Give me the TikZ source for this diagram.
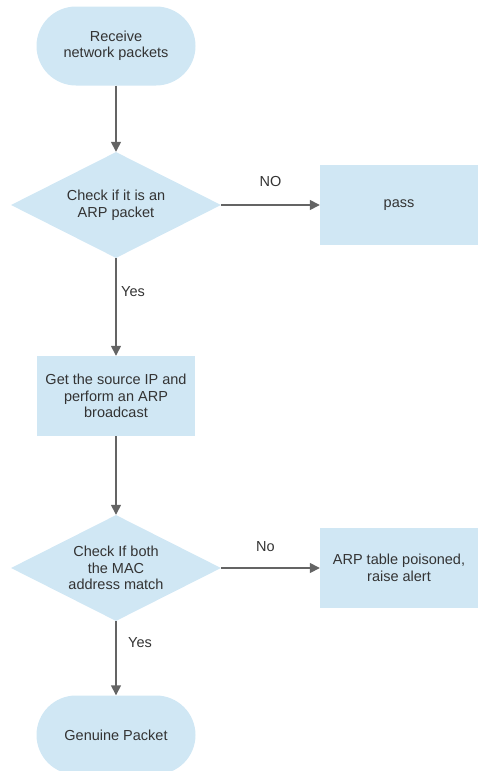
\documentclass[tikz,border=0pt]{standalone}
\usepackage{fontspec}
\setmainfont{Liberation Sans}
\usetikzlibrary{shapes.geometric,arrows.meta}
\definecolor{boxblue}{RGB}{208,231,244}
\definecolor{linegray}{RGB}{100,100,100}
\definecolor{textgray}{RGB}{51,51,51}

\begin{document}
\begin{tikzpicture}[x=1pt,y=-1pt,
        every node/.style={font=\fontsize{14.5}{16.5}\selectfont,text=textgray,align=center},
        terminal/.style={fill=boxblue,rounded corners=39.5pt,minimum width=159pt,minimum height=79pt},
        decision/.style={diamond,fill=boxblue,aspect=1.98,minimum width=210pt,minimum height=106pt,inner sep=0pt},
        process/.style={fill=boxblue,minimum width=158pt,minimum height=80pt},
        flow/.style={draw=linegray,line width=1.5pt,-{Triangle[length=10pt,width=10pt]}}]
                \useasboundingbox (0,0) rectangle (477,771);
                \node[terminal] (receive) at (116,46) {Receive\\network packets};
                \node[decision] (isarp) at (116,205) {Check if it is an\\ARP packet};
                \node[process] (pass) at (399,205) {pass};
                \node[process] (broadcast) at (116,396) {Get the source IP and\\perform an ARP\\broadcast};
                \node[decision] (macmatch) at (116,568) {Check If both\\the MAC\\address match};
                \node[process] (alert) at (399,568) {ARP table poisoned,\\raise alert};
                \node[terminal] (genuine) at (116,735) {Genuine Packet};
                \draw[flow] (receive) -- (isarp);
                \draw[flow] (isarp) -- node[midway,yshift=23pt] {NO} (pass);
                \draw[flow] (isarp) -- node[midway,xshift=17pt,yshift=15pt] {Yes} (broadcast);
                \draw[flow] (broadcast) -- (macmatch);
                \draw[flow] (macmatch) -- node[midway,xshift=-5pt,yshift=21pt] {No} (alert);
                \draw[flow] (macmatch) -- node[midway,xshift=24pt,yshift=16pt] {Yes} (genuine);
\end{tikzpicture}
\end{document}
